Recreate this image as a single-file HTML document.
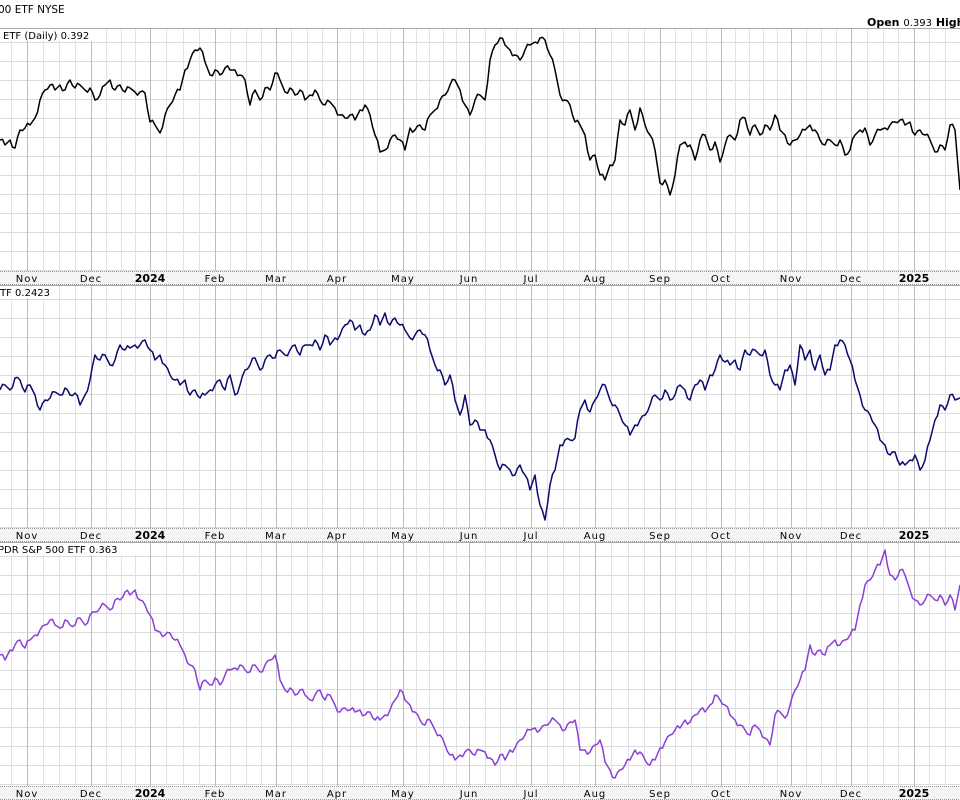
<!DOCTYPE html>
<html><head><meta charset="utf-8"><style>
body{margin:0;background:#fff;width:960px;height:800px;overflow:hidden;font-family:"DejaVu Sans","Liberation Sans",sans-serif;}
svg{position:absolute;left:0;top:0}
</style></head><body>
<svg id="s" width="960" height="800" xmlns="http://www.w3.org/2000/svg" font-family="DejaVu Sans, Liberation Sans, sans-serif">
<g id="grid"></g>
<g id="lines"></g>
<text x="-2" y="13" font-size="10.5" fill="#000">00 ETF  NYSE</text>
<text x="867" y="26" font-size="11" font-weight="bold" fill="#000">Open <tspan font-weight="normal" font-size="10">0.393</tspan> High <tspan font-weight="normal" font-size="10">0</tspan></text>
<rect x="0" y="29" width="100" height="12" fill="#fff"/>
<text x="3" y="39" font-size="10" fill="#000">ETF (Daily) 0.392</text>
<rect x="0" y="286" width="56" height="12" fill="#fff"/>
<text x="0" y="296" font-size="10" fill="#000">TF 0.2423</text>
<rect x="0" y="543" width="146" height="12" fill="#fff"/>
<text x="-2" y="553" font-size="10" fill="#000">PDR S&amp;P 500 ETF 0.363</text>
<g id="ax" font-size="10" fill="#000" text-anchor="middle"></g>
</svg>
<script>
const NS="http://www.w3.org/2000/svg";
function el(p,t,a){const e=document.createElementNS(NS,t);for(const k in a)e.setAttribute(k,a[k]);p.appendChild(e);return e;}
const grid=document.getElementById('grid'),lines=document.getElementById('lines'),ax=document.getElementById('ax');
const months=[[27,'Nov'],[91,'Dec'],[150,'2024'],[215,'Feb'],[276,'Mar'],[337,'Apr'],[403,'May'],[469,'Jun'],[531,'Jul'],[595,'Aug'],[660,'Sep'],[721,'Oct'],[791,'Nov'],[851,'Dec'],[914,'2025']];
const panels=[[28,271],[285,528],[542,786]];
panels.forEach(([t,b],i)=>{
  for(let y=t+14;y<b;y+=19) el(grid,'line',{x1:0,x2:960,y1:y+.5,y2:y+.5,stroke:'#dcdcdc'});
  const mx=[-37,...months.map(m=>m[0]),975];
  for(let j=0;j<mx.length-1;j++){const a=mx[j],c=mx[j+1],n=Math.round((c-a)/14.5);for(let k=1;k<n;k++){const x=Math.round(a+(c-a)*k/n)+.5;el(grid,'line',{x1:x,x2:x,y1:t,y2:b,stroke:'#e2e2e2'});}}
  months.forEach(m=>el(grid,'line',{x1:m[0]+.5,x2:m[0]+.5,y1:t,y2:b,stroke:'#bdbdbd'}));
  el(grid,'line',{x1:0,x2:960,y1:t+.5,y2:t+.5,stroke:'#aaa'});
  el(grid,'rect',{x:0,y:b,width:960,height:14,fill:'#f4f4f4'});
  el(grid,'line',{x1:0,x2:960,y1:b+.5,y2:b+.5,stroke:'#999','stroke-dasharray':'1,1'});
  el(grid,'line',{x1:0,x2:960,y1:b+13.5,y2:b+13.5,stroke:'#999','stroke-dasharray':'1,1'});
  months.forEach(m=>{const tx=el(ax,'text',{x:m[0],y:b+11});tx.textContent=m[1];if(m[1].length==4){tx.setAttribute('font-weight','bold');tx.setAttribute('font-size','11');}else tx.setAttribute('letter-spacing','1');});
});
const d1=[140,145,140,148,130,128,125,118,100,90,85,90,85,90,80,88,85,90,88,100,95,85,80,90,85,92,88,92,92,93,122,125,133,115,105,95,90,70,60,50,48,62,75,70,75,68,70,70,75,80,105,90,100,88,90,73,80,92,88,95,90,100,95,90,100,105,102,108,115,118,115,120,110,105,115,135,152,150,140,135,140,150,128,130,125,130,115,110,100,95,85,80,90,105,115,100,95,100,60,45,38,45,50,55,60,50,45,42,38,40,55,70,95,100,105,122,125,135,160,155,175,180,165,160,120,125,110,130,108,125,135,150,183,180,195,175,145,142,145,160,140,135,150,142,162,145,135,140,120,118,135,125,135,125,130,115,130,135,145,140,135,130,125,130,140,145,140,145,140,155,150,135,130,128,145,135,130,128,125,122,120,125,122,135,130,135,140,152,145,150,125,130,190];
const d2=[390,385,390,378,380,392,385,395,410,400,398,392,395,388,395,393,405,395,380,355,360,355,365,360,345,350,348,345,345,340,350,360,355,365,375,380,385,380,395,390,398,395,390,385,380,390,375,395,385,370,365,358,370,360,355,358,350,355,350,345,355,345,345,340,350,335,345,338,335,325,320,330,325,335,330,315,325,313,325,318,325,330,338,335,330,335,350,365,370,385,375,400,415,395,425,420,430,430,440,455,470,465,470,475,465,475,490,475,505,520,485,470,445,440,440,438,410,400,412,400,390,385,400,405,415,425,435,425,420,415,405,395,400,390,400,395,385,390,400,385,380,390,375,370,355,362,365,360,370,350,355,350,355,350,375,385,390,370,365,385,345,360,350,370,355,375,370,345,340,345,360,380,395,410,415,425,440,445,455,452,465,465,460,455,470,460,440,420,405,410,395,400,398];
const d3=[655,660,650,645,640,648,640,635,630,625,620,625,628,620,625,625,618,625,615,612,608,605,610,600,600,592,595,590,600,605,615,630,632,635,633,640,645,655,665,670,690,680,685,678,685,675,670,668,665,670,672,665,672,665,660,655,680,690,688,695,690,695,700,695,690,700,695,705,712,708,710,712,710,715,712,720,720,715,710,700,690,700,705,712,720,725,720,730,735,745,755,760,755,752,750,755,750,752,758,765,755,760,750,748,740,735,730,728,730,725,722,720,725,730,722,720,750,750,752,745,740,762,770,778,770,765,760,750,752,760,765,760,748,742,735,730,728,720,722,715,710,712,705,695,700,705,715,720,725,730,735,725,730,738,745,715,712,718,705,690,680,670,645,655,650,655,645,640,645,640,635,630,605,585,580,570,565,550,575,580,570,575,590,600,605,600,595,600,595,605,595,610,585];
function jit(d){const p=[];for(let i=0;i<d.length;i++){const x=i*5;p.push(x+','+d[i]);if(i<d.length-1){const m=(d[i]+d[i+1])/2+((i*7)%5-2)*1.6;p.push((x+2.5)+','+m.toFixed(1));}}return p.join(' ');}
[[d1,'#000'],[d2,'#0a0a6e'],[d3,'#8a3fd6']].forEach(([d,c])=>el(lines,'polyline',{points:jit(d),fill:'none',stroke:c,'stroke-width':1.5,'stroke-linejoin':'round'}));
</script>
</body></html>
